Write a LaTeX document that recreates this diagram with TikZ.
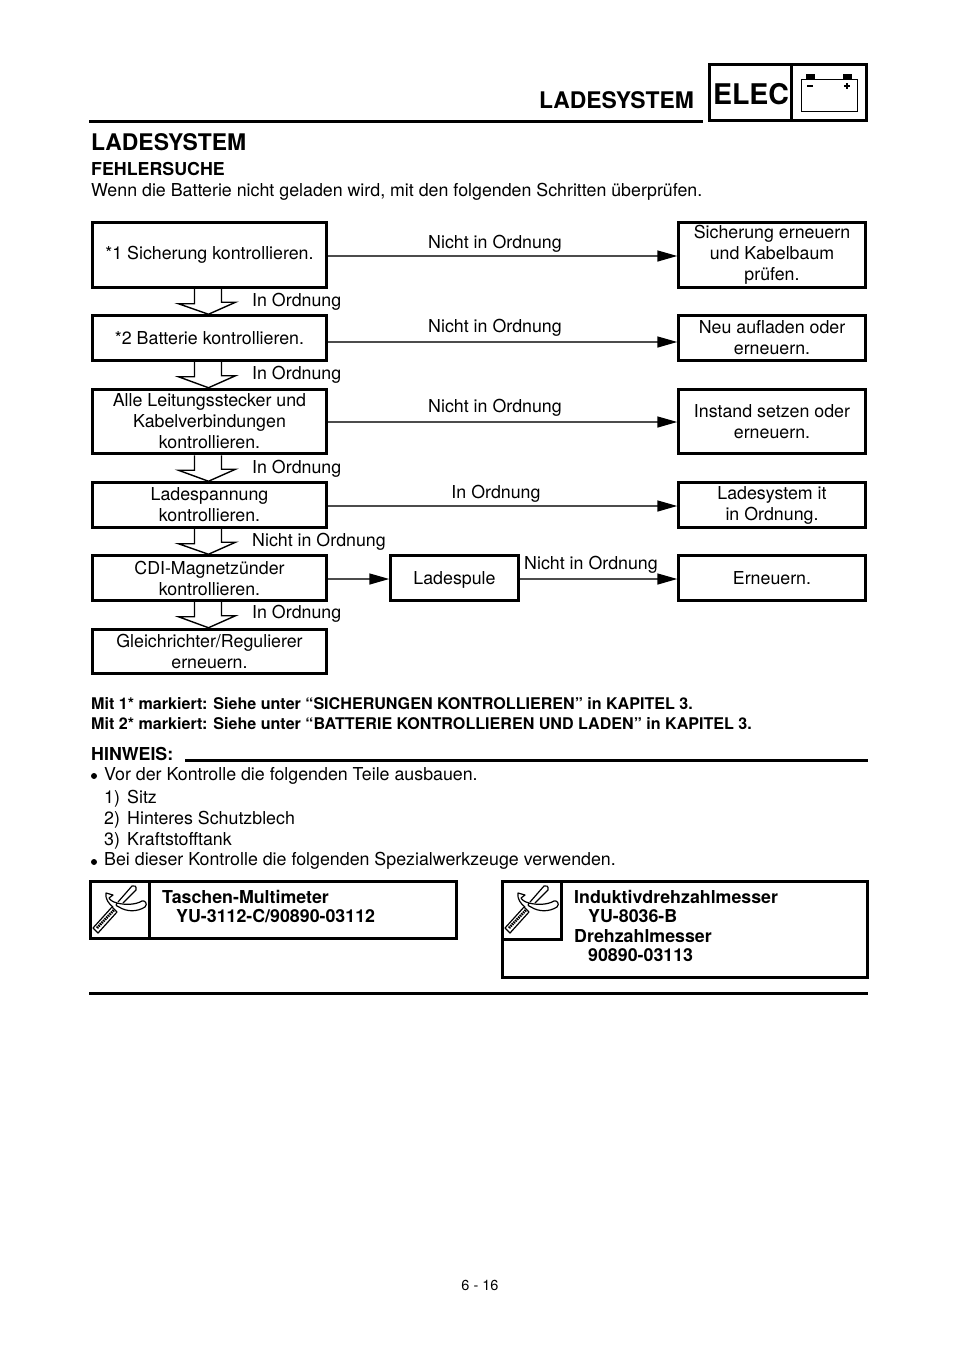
\documentclass[tikz,border=0pt]{standalone}
\usepackage{fontspec}
\setmainfont{TeX Gyre Heros}
\usetikzlibrary{arrows.meta}
\tikzset{
	stepbox/.style={draw,line width=3pt,inner sep=0pt,align=center,font=\fontsize{17.8}{21}\selectfont},
	leftbox/.style={stepbox,minimum width=233.5pt},
	rightbox/.style={stepbox,minimum width=186.5pt},
	plain/.style={inner sep=0pt,anchor=base,font=\fontsize{17.8}{21}\selectfont},
	plainleft/.style={plain,anchor=base west},
	boldtext/.style={inner sep=0pt,anchor=north west,align=left,font=\bfseries\fontsize{17.8}{19.3}\selectfont},
	small/.style={inner sep=0pt,anchor=base west,font=\bfseries\fontsize{16.1}{17}\selectfont},
	conn/.style={draw=black!70,line width=1.5pt,-{Triangle[length=20pt,width=11pt,black]}},
	hollow/.style={draw,line width=1.4pt,line join=miter},
	rule/.style={line width=3pt},
}
\newcommand{\hollowarrow}[2]{
	\draw[hollow] ([xshift=-15pt]#1.south) -- ++(0,15) -- ++(-16,0) -- ([xshift=-1pt]#2.north) -- ([xshift=26pt,yshift=12pt]#2.north) -- ([xshift=12pt,yshift=12pt]#2.north) -- ([xshift=12pt]#1.south);
}
\newcommand{\toolicon}[1]{
	\begin{scope}[shift={(#1)},line width=1.2pt,line join=round]
	\draw (3,47) -- (8,52) -- (27,31) -- (22,26) -- cycle;
	\draw[line width=2.6pt,dash pattern=on 1.5pt off 0.8pt] (7,47) -- (24,29);
	\draw (28,21) -- (42,5) .. controls (44,4) and (47,5) .. (46,9) -- (33,22);
	\draw (27,22) .. controls (35,24) and (45,24) .. (52,20) .. controls (55,19) and (58,23) .. (55,26) .. controls (47,31) and (37,31) .. (29,26) .. controls (26,25) and (25,23) .. cycle;
	\draw (23,26) .. controls (19,23) and (15,18) .. (16,12) -- (23,14) -- (19,17) .. controls (20,19) and (23,21) .. (27,22);
	\end{scope}
}
\begin{document}
\begin{tikzpicture}[x=1pt,y=-1pt]
	\useasboundingbox (0,0) rectangle (960,1358);
	% header
	\node[inner sep=0pt,anchor=base,font=\bfseries\fontsize{22.9}{24}\selectfont] (headtitle) at (616.5,108) {LADESYSTEM};
	\draw[rule] (89,121) -- (703,121);
	\draw[rule] (709,64) rectangle (866.5,120.5);
	\draw[rule] (791,64) -- (791,120.5);
	\node[inner sep=0pt,anchor=base,font=\bfseries\fontsize{28.5}{30}\selectfont] (elec) at (751,104) {ELEC};
	\draw[line width=1pt] (801,79) rectangle (857,111);
	\fill (806,74) rectangle (815,79);
	\fill (843,74) rectangle (852,79);
	\draw[line width=1.5pt] (807,86) -- (813,86);
	\draw[line width=1.5pt] (844,86) -- (850,86) (847,83) -- (847,89);
	% intro
	\node[inner sep=0pt,anchor=base west,font=\bfseries\fontsize{22.9}{24}\selectfont] (title) at (91,150) {LADESYSTEM};
	\node[boldtext,anchor=base west] (subtitle) at (91,175) {FEHLERSUCHE};
	\node[plainleft] (intro) at (91,196) {Wenn die Batterie nicht geladen wird, mit den folgenden Schritten überprüfen.};
	% left column
	\node[leftbox,minimum height=64.5pt] (check1) at (209.5,255) {*1 Sicherung kontrollieren.};
	\node[leftbox,minimum height=44.5pt] (check2) at (209.5,338) {*2 Batterie kontrollieren.};
	\node[leftbox,minimum height=64.5pt] (check3) at (209.5,421.5) {Alle Leitungsstecker und\\Kabelverbindungen\\kontrollieren.};
	\node[leftbox,minimum height=44.5pt] (check4) at (209.5,505) {Ladespannung\\kontrollieren.};
	\node[leftbox,minimum height=44.5pt] (check5) at (209.5,578) {CDI-Magnetzünder\\kontrollieren.};
	\node[leftbox,minimum height=44.5pt] (check6) at (209.5,651.5) {Gleichrichter/Regulierer\\erneuern.};
	% right column
	\node[rightbox,minimum height=64.5pt] (fix1) at (772,255) {Sicherung erneuern\\und Kabelbaum\\prüfen.};
	\node[rightbox,minimum height=44.5pt] (fix2) at (772,338) {Neu aufladen oder\\erneuern.};
	\node[rightbox,minimum height=64.5pt] (fix3) at (772,421.5) {Instand setzen oder\\erneuern.};
	\node[rightbox,minimum height=44.5pt] (fix4) at (772,505) {Ladesystem it\\in Ordnung.};
	\node[rightbox,minimum height=44.5pt] (fix5) at (772,578) {Erneuern.};
	\node[stepbox,minimum width=127.5pt,minimum height=44.5pt,text depth=0pt] (coil) at (454.5,578) {Ladespule};
	% connectors
	\draw[conn] ([yshift=-1pt]check1.east) -- ([yshift=-1pt]fix1.west);
	\draw[conn] ([yshift=-4pt]check2.east) -- ([yshift=-4pt]fix2.west);
	\draw[conn] ([yshift=-0.5pt]check3.east) -- ([yshift=-0.5pt]fix3.west);
	\draw[conn] ([yshift=-1pt]check4.east) -- ([yshift=-1pt]fix4.west);
	\draw[conn] ([yshift=-1pt]check5.east) -- ([yshift=-1pt]coil.west);
	\draw[conn] ([yshift=-1pt]coil.east) -- ([yshift=-1pt]fix5.west);
	\hollowarrow{check1}{check2}
	\hollowarrow{check2}{check3}
	\hollowarrow{check3}{check4}
	\hollowarrow{check4}{check5}
	\hollowarrow{check5}{check6}
	% labels
	\node[plain] (bad1) at (495,248) {Nicht in Ordnung};
	\node[plain] (bad2) at (495,332) {Nicht in Ordnung};
	\node[plain] (bad3) at (495,412) {Nicht in Ordnung};
	\node[plain] (ok4) at (496,498) {In Ordnung};
	\node[plain] (bad5) at (591,569) {Nicht in Ordnung};
	\node[plainleft] (ok1) at (252,306) {In Ordnung};
	\node[plainleft] (ok2) at (252,379) {In Ordnung};
	\node[plainleft] (ok3) at (252,473) {In Ordnung};
	\node[plainleft] (bad4) at (252,546) {Nicht in Ordnung};
	\node[plainleft] (ok5) at (252,618) {In Ordnung};
	% notes
	\node[small] (note1) at (91,709) {Mit 1* markiert: Siehe unter “SICHERUNGEN KONTROLLIEREN” in KAPITEL 3.};
	\node[small] (note2) at (91,729) {Mit 2* markiert: Siehe unter “BATTERIE KONTROLLIEREN UND LADEN” in KAPITEL 3.};
	\node[boldtext,anchor=base west] (hint) at (91,760) {HINWEIS:};
	\draw[rule] (185,760) -- (868,760);
	\fill (94,776) circle (3);
	\node[plainleft] (item1) at (104,780) {Vor der Kontrolle die folgenden Teile ausbauen.};
	\node[plainleft] (num1) at (104,803) {1)};
	\node[plainleft] (part1) at (127,803) {Sitz};
	\node[plainleft] (num2) at (104,824) {2)};
	\node[plainleft] (part2) at (127,824) {Hinteres Schutzblech};
	\node[plainleft] (num3) at (104,845) {3)};
	\node[plainleft] (part3) at (127,845) {Kraftstofftank};
	\fill (94,862) circle (3);
	\node[plainleft] (item2) at (104,865) {Bei dieser Kontrolle die folgenden Spezialwerkzeuge verwenden.};
	% tool boxes
	\draw[rule] (90,881) rectangle (456.5,938.5);
	\draw[rule] (149,881) -- (149,938.5);
	\toolicon{90,881}
	\node[boldtext] (tool1) at (162,890) {Taschen-Multimeter\\\hspace*{14pt}YU-3112-C/90890-03112};
	\draw[rule] (502,881) rectangle (867.5,977);
	\draw[rule] (502,939) -| (561,881);
	\toolicon{502,881}
	\node[boldtext] (tool2) at (574,890) {Induktivdrehzahlmesser\\\hspace*{14pt}YU-8036-B\\Drehzahlmesser\\\hspace*{14pt}90890-03113};
	\draw[rule] (89,993) -- (868,993);
	% page number
	\node[inner sep=0pt,anchor=base,font=\fontsize{14.5}{16}\selectfont] (page) at (480,1290) {6 - 16};
\end{tikzpicture}
\end{document}
